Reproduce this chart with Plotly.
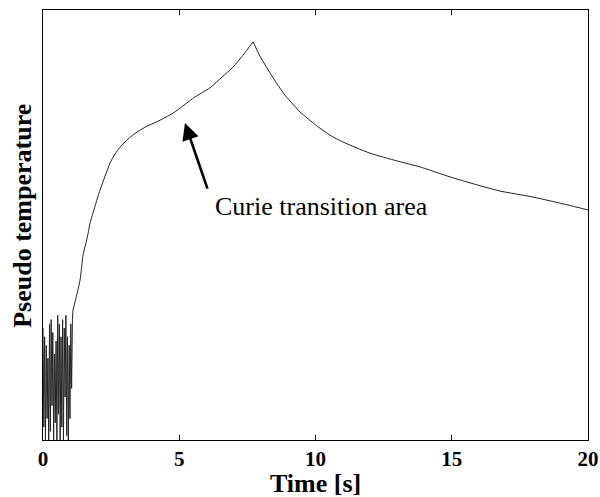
import plotly.graph_objects as go

# noisy start-up region (time in s, pseudo temperature in arbitrary units)
noise_t = [0.00, 0.03, 0.06, 0.09, 0.12, 0.15, 0.18, 0.21, 0.24, 0.27, 0.30, 0.33,
           0.36, 0.39, 0.42, 0.45, 0.48, 0.51, 0.54, 0.57, 0.60, 0.63, 0.66, 0.69,
           0.72, 0.75, 0.78, 0.81, 0.84, 0.87, 0.90, 0.93, 0.96, 0.99, 1.02, 1.05, 1.08, 1.10]
noise_y = [26, 3, 24, 0, 22, 5, 19, 0, 27, 2, 28, 8, 25, 0, 20, 4, 23, 0, 29, 6,
           27, 0, 24, 3, 28, 0, 26, 10, 29, 1, 24, 0, 22, 5, 27, 12, 28, 30.2]

# heating (rise) part
rise_t = [1.10, 1.21, 1.36, 1.47, 1.62, 1.73, 1.91, 2.09, 2.28, 2.46, 2.64, 2.83,
          3.12, 3.45, 3.82, 4.18, 4.77, 5.14, 5.58, 6.13, 6.57, 6.97, 7.34, 7.71]
rise_y = [30.2, 33.0, 37.2, 43.0, 47.0, 50.5, 54.4, 58.1, 61.4, 64.4, 66.5, 68.1,
          70.0, 71.6, 73.0, 74.0, 76.0, 77.7, 79.8, 81.9, 84.4, 86.7, 89.5, 92.6]

# cooling (decay) part
decay_t = [7.71, 7.96, 8.26, 8.59, 8.88, 9.17, 9.43, 10.06, 10.53, 11.01, 11.52,
           12.00, 12.99, 13.84, 14.83, 15.56, 16.77, 17.98, 19.23, 20.00]
decay_y = [92.6, 89.3, 86.1, 82.8, 80.2, 78.1, 76.3, 73.0, 70.9, 69.3, 67.9,
           66.7, 64.9, 63.5, 61.4, 60.0, 57.9, 56.5, 54.7, 53.5]

x_ticks = [0, 5, 10, 15, 20]
x_ticktext = ["<b>0</b>", "<b>5</b>", "<b>10</b>", "<b>15</b>", "<b>20</b>"]

FONT = "Liberation Serif, Times New Roman, serif"
LINE = "#222222"

fig = go.Figure()
fig.add_trace(go.Scatter(x=noise_t, y=noise_y, mode="lines",
                         line=dict(color=LINE, width=1), showlegend=False, hoverinfo="skip"))
fig.add_trace(go.Scatter(x=rise_t, y=rise_y, mode="lines",
                         line=dict(color=LINE, width=1, shape="spline", smoothing=0.6),
                         showlegend=False, hoverinfo="skip"))
fig.add_trace(go.Scatter(x=decay_t, y=decay_y, mode="lines",
                         line=dict(color=LINE, width=1, shape="spline", smoothing=0.6),
                         showlegend=False, hoverinfo="skip"))

fig.add_annotation(x=5.21, y=73.7, ax=23, ay=67, xref="x", yref="y",
                   showarrow=True, arrowhead=2, arrowsize=1.3, arrowwidth=2.6,
                   arrowcolor="black", text="")
fig.add_annotation(x=6.24, y=54.3, xref="x", yref="y", xanchor="left", yanchor="middle",
                   showarrow=False, text="Curie transition area",
                   font=dict(family=FONT, size=26, color="black"))
fig.add_annotation(x=-0.037, y=0.521, xref="paper", yref="paper", textangle=-90,
                   xanchor="center", yanchor="middle", showarrow=False,
                   text="<b>Pseudo temperature</b>",
                   font=dict(family=FONT, size=26, color="black"))
fig.add_annotation(x=0.5, y=-0.1, xref="paper", yref="paper",
                   xanchor="center", yanchor="middle", showarrow=False,
                   text="<b>Time [s]</b>",
                   font=dict(family=FONT, size=26, color="black"))

fig.update_layout(
    width=600, height=497, margin=dict(l=43, r=12, t=10, b=57),
    plot_bgcolor="white", paper_bgcolor="white",
    font=dict(family=FONT, color="black"),
    xaxis=dict(range=[0, 20], tickvals=x_ticks, ticktext=x_ticktext,
               ticks="inside", ticklen=5, tickcolor="black", mirror="ticks",
               showline=True, linecolor="black", linewidth=1, showgrid=False,
               zeroline=False, automargin=False, tickfont=dict(family=FONT, size=21)),
    yaxis=dict(range=[0, 100], showticklabels=False, ticks="", mirror=True,
               showline=True, linecolor="black", linewidth=1, showgrid=False,
               zeroline=False, automargin=False),
)

fig.write_html("out.html")
